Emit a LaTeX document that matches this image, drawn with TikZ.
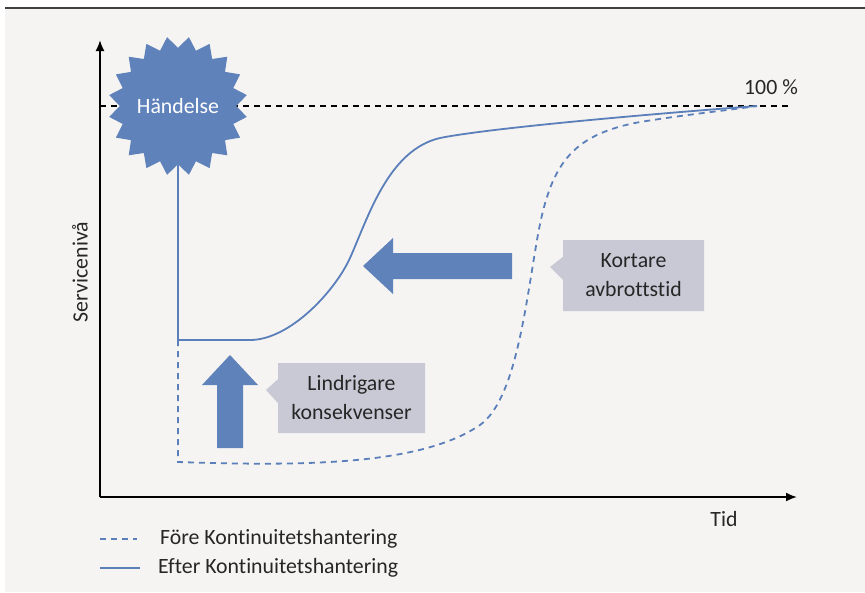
\documentclass[tikz,border=0pt]{standalone}
\usepackage{fontspec}
\setmainfont{Carlito}[Ligatures=NoCommon]
\usepackage{xcolor}
\usetikzlibrary{arrows.meta,positioning,shapes.geometric,shapes.callouts}
\definecolor{bgray}{RGB}{245,244,242}
\definecolor{topline}{RGB}{64,64,64}
\definecolor{kurva}{RGB}{91,127,186}
\definecolor{pil}{RGB}{95,130,187}
\definecolor{ruta}{RGB}{201,201,214}

\begin{document}
\begin{tikzpicture}[
    x=1pt, y=-1pt,
    >={Latex[length=11pt,width=9pt]},
    font=\fontsize{21.8}{29}\selectfont,
    axis/.style={line width=1.8pt, black, ->},
    niva/.style={line width=1.6pt, black, dash pattern=on 6pt off 5pt},
    efter/.style={line width=1.8pt, kurva},
    fore/.style={line width=1.8pt, kurva, dash pattern=on 6pt off 5pt},
    blockpil/.style={fill=pil},
    info/.style={
        rectangle callout,
        fill=ruta,
        inner sep=0pt,
        align=center,
        text=black!85
    },
    etikett/.style={text=black!85, inner sep=0pt}
  ]
  % background and top rule
  \useasboundingbox (0,0) rectangle (865,592);
  \fill[bgray] (5,9) rectangle (865,592);
  \draw[topline, line width=2pt] (5,8) -- (865,8);

  % axes
  \coordinate (origo) at (100,497);
  \coordinate (ytopp) at (100,40);
  \coordinate (xslut) at (797,497);
  \draw[axis] (origo) -- (ytopp);
  \draw[axis] (origo) -- (xslut);
  \node[etikett, rotate=90] (servicenivaa) at (80,272) {Servicenivå};
  \node[etikett] (tid) at (724,519) {Tid};

  % 100 % level
  \coordinate (nivastart) at (100,106);
  \coordinate (nivaslut) at (790,106);
  \draw[niva] (nivastart) -- (nivaslut);
  \node[etikett] (hundra) at (771,87) {100 \%};

  % event
  \node[star, star points=20, star point ratio=1.2, shape border rotate=9,
        minimum size=136pt, inner sep=0pt, fill=pil, text=white]
        (haendelse) at (178,106) {Händelse};

  % curves
  \coordinate (hörn) at (178,340);
  \coordinate (botten) at (178,462);
  \coordinate (mal) at (757,106);
  \draw[efter] (haendelse.south) -- (hörn) -- (250,340)
      .. controls (290,340) and (335,291) .. (350,258)
      .. controls (368,218) and (388,150) .. (440,138)
      .. controls (490,128) and (650,114) .. (mal);
  \draw[fore] (hörn) -- (botten)
      .. controls (300,466) and (420,466) .. (480,425)
      .. controls (515,400) and (525,310) .. (537,240)
      .. controls (550,165) and (570,135) .. (640,122)
      .. controls (690,114) and (730,110) .. (mal);

  % block arrows
  \fill[blockpil] (363,266) -- (393,238) -- (393,253) -- (512,253)
      -- (512,279) -- (393,279) -- (393,294) -- cycle;
  \fill[blockpil] (230,355) -- (258,385) -- (243,385) -- (243,448)
      -- (217,448) -- (217,385) -- (202,385) -- cycle;

  % callouts
  \node[info, minimum width=141pt, minimum height=71pt,
        callout absolute pointer={(550,267)}, callout pointer width=23pt]
        (kortare) at (633.5,275.5) {Kortare\\avbrottstid};
  \node[info, minimum width=147pt, minimum height=70pt,
        callout absolute pointer={(266,390)}, callout pointer width=24pt]
        (lindrigare) at (351.5,398) {Lindrigare\\konsekvenser};

  % legend
  \coordinate (fore1) at (100,539);
  \coordinate (fore2) at (137,539);
  \coordinate (efter1) at (100,568);
  \coordinate (efter2) at (140,568);
  \draw[fore] (fore1) -- (fore2);
  \draw[efter] (efter1) -- (efter2);
  \node[etikett, anchor=west] (forelbl) at (160,539) {Före Kontinuitetshantering};
  \node[etikett, anchor=west] (efterlbl) at (158,568) {Efter Kontinuitetshantering};
\end{tikzpicture}
\end{document}
